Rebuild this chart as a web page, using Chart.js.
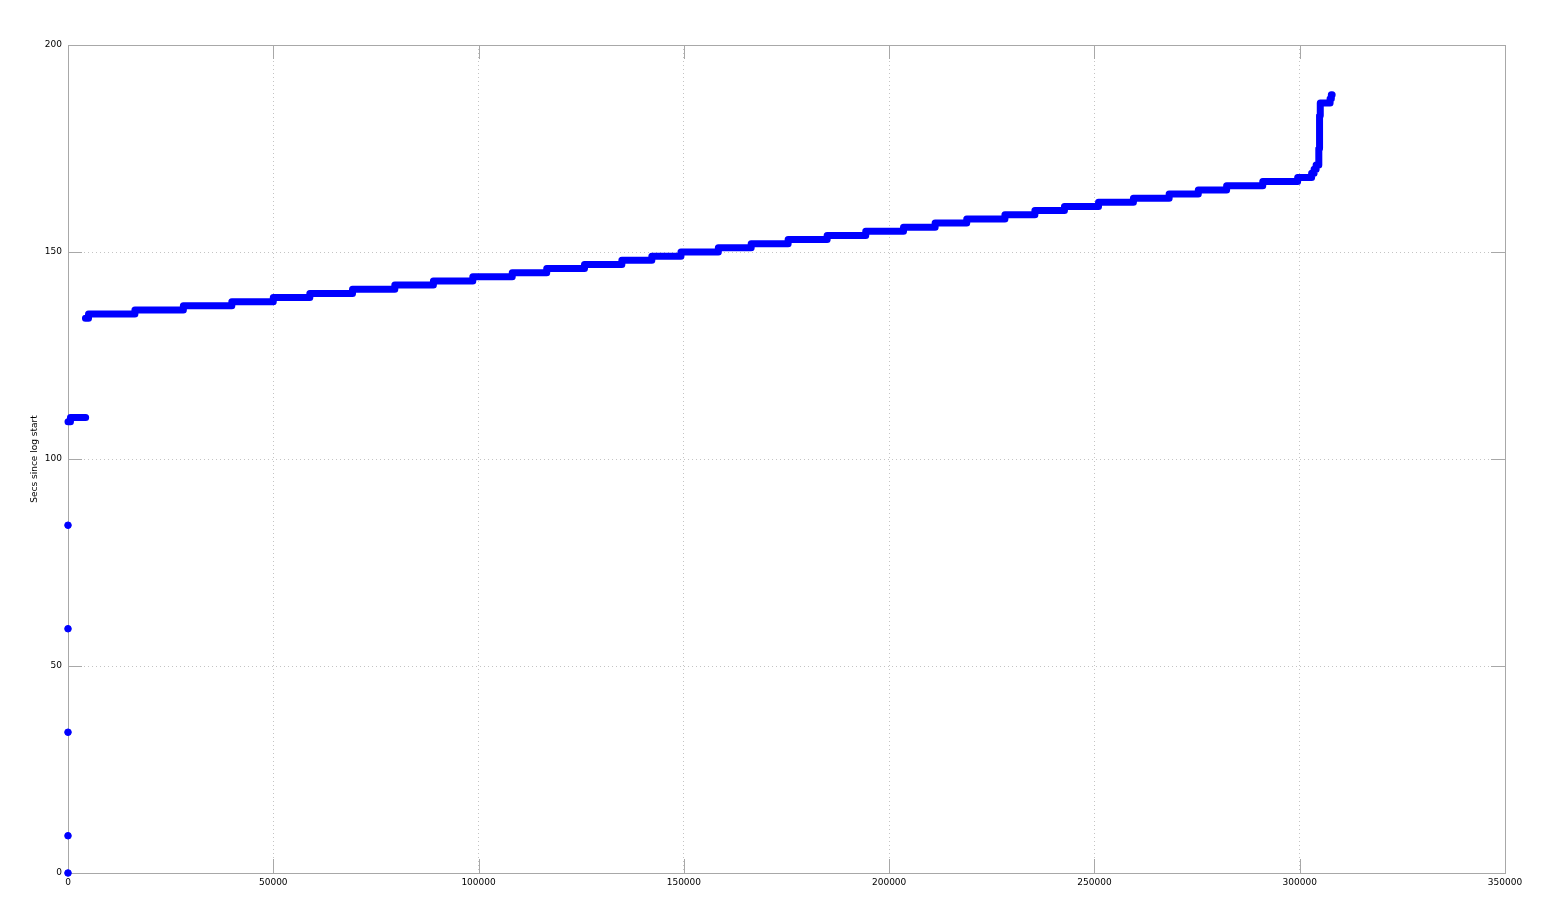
<!DOCTYPE html>
<html>
<head>
<meta charset="utf-8">
<script src="https://cdn.jsdelivr.net/npm/chart.js@4"></script>
<style>
  html, body { margin: 0; padding: 0; background: #fff; }
  #wrap { width: 1542px; height: 916px; }
</style>
</head>
<body>
<div id="wrap"><canvas id="graphCanvas" width="1542" height="916"></canvas></div>
<script>
// lone samples at the very start of the log
const loneX = [0, 0, 0, 0, 0];
const loneY = [0, 9, 34, 59, 84];

// first short staircase
const earlyLevels = [109, 110];
const earlyStarts = [0, 600];
const earlyEnd = 4300;

// main staircase: level (secs) and the sample index where it begins
const mainLevels = [134, 135, 136, 137, 138, 139, 140, 141, 142, 143, 144, 145, 146, 147, 148, 149,
    150, 151, 152, 153, 154, 155, 156, 157, 158, 159, 160, 161, 162, 163, 164, 165, 166, 167, 168,
    169, 170, 171, 172, 173, 174, 175, 176, 177, 178, 179, 180, 181, 182, 183, 184, 185, 186, 187, 188];
const mainStarts = [4250, 5000, 16300, 28100, 39900, 50000, 58900, 69300, 79600, 89000, 98600, 108200,
    116600, 125800, 134900, 142200, 149300, 158400, 166400, 175400, 184900, 194300, 203500, 211200,
    218900, 228200, 235500, 242700, 251000, 259500, 268200, 275300, 282200, 291000, 299500,
    302900, 303500, 304000, 304600, 304630, 304660, 304690, 304720, 304750, 304780, 304810, 304840,
    304870, 304900, 304930, 304960, 304990, 305050, 307400, 307700];
const mainEnd = 307900;

const xTicks = [0, 50000, 100000, 150000, 200000, 250000, 300000, 350000];
const yTicks = [0, 50, 100, 150, 200];

function stairPoints(levels, starts, end) {
    const pts = [];
    levels.forEach((lvl, i) => {
        const next = i + 1 < starts.length ? starts[i + 1] : end;
        pts.push({x: starts[i], y: lvl});
        pts.push({x: next, y: lvl});
    });
    return pts;
}

// gnuplot-like frame with inward tick marks
const framePlugin = {
    id: "frame",
    beforeDatasetsDraw(chart) {
        const {ctx, chartArea: a, scales} = chart;
        const len = 14;
        ctx.save();
        ctx.strokeStyle = "#a8a8a8";
        ctx.lineWidth = 1;
        ctx.beginPath();
        xTicks.forEach(v => {
            const px = Math.round(scales.x.getPixelForValue(v)) + 0.5;
            ctx.moveTo(px, a.bottom); ctx.lineTo(px, a.bottom - len);
            ctx.moveTo(px, a.top); ctx.lineTo(px, a.top + len);
        });
        yTicks.forEach(v => {
            const py = Math.round(scales.y.getPixelForValue(v)) + 0.5;
            ctx.moveTo(a.left, py); ctx.lineTo(a.left + len, py);
            ctx.moveTo(a.right, py); ctx.lineTo(a.right - len, py);
        });
        ctx.stroke();
        ctx.strokeRect(Math.round(a.left) + 0.5, Math.round(a.top) + 0.5,
            Math.round(a.right - a.left), Math.round(a.bottom - a.top));
        ctx.restore();
    }
};

const ctx = document.getElementById("graphCanvas").getContext("2d");
const tickFont = {family: "'DejaVu Sans'", size: 9};

new Chart(ctx, {
    type: "scatter",
    data: {
        datasets: [
            {
                data: loneX.map((x, i) => ({x, y: loneY[i]})),
                backgroundColor: "#0000ff",
                borderColor: "#0000ff",
                pointRadius: 3.3,
                showLine: false,
                clip: false
            },
            {
                data: stairPoints(earlyLevels, earlyStarts, earlyEnd),
                borderColor: "#0000ff",
                borderWidth: 7,
                borderCapStyle: "round",
                borderJoinStyle: "round",
                pointRadius: 0,
                showLine: true,
                clip: false
            },
            {
                data: stairPoints(mainLevels, mainStarts, mainEnd),
                borderColor: "#0000ff",
                borderWidth: 7,
                borderCapStyle: "round",
                borderJoinStyle: "round",
                pointRadius: 0,
                showLine: true
            }
        ]
    },
    options: {
        responsive: false,
        animation: false,
        layout: { padding: {top: 45, right: 37, left: 0, bottom: 0} },
        plugins: {
            legend: { display: false },
            tooltip: { enabled: false }
        },
        scales: {
            x: {
                type: "linear",
                min: 0,
                max: 350000,
                afterBuildTicks: s => { s.ticks = xTicks.map(v => ({value: v})); },
                afterFit: s => { s.height = 43; },
                ticks: { color: "#000", font: tickFont, padding: 4, maxRotation: 0, callback: v => String(v) },
                grid: { color: "#c4c4c4", drawTicks: false, lineWidth: 1 },
                border: { display: false, dash: [1, 3] }
            },
            y: {
                min: 0,
                max: 200,
                afterBuildTicks: s => { s.ticks = yTicks.map(v => ({value: v})); },
                afterFit: s => { s.width = 68; },
                title: { display: true, text: "Secs since log start", color: "#000", font: tickFont, padding: {top: 29, bottom: 0} },
                ticks: { color: "#000", font: tickFont, padding: 6 },
                grid: { color: "#c4c4c4", drawTicks: false, lineWidth: 1 },
                border: { display: false, dash: [1, 3] }
            }
        }
    },
    plugins: [framePlugin]
});
</script>
</body>
</html>
